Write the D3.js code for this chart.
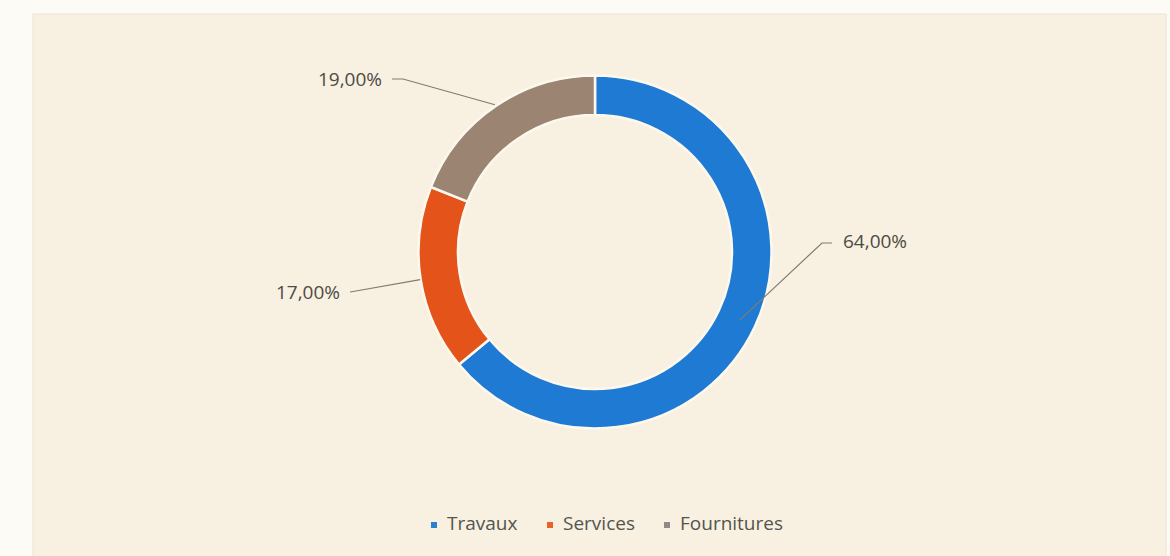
<!DOCTYPE html>
<html><head><meta charset="utf-8">
<script src="https://cdn.jsdelivr.net/npm/d3@7"></script>
<style>body{margin:0;background:#fdfbf6;}svg{display:block;}</style>
</head><body>
<svg id="c" width="1170" height="556"></svg>
<script>
const categories = ["Travaux", "Services", "Fournitures"];
const values = [64, 17, 19];
const labels = ["64,00%", "17,00%", "19,00%"];
const colors = ["#1e7ad2", "#e4531a", "#9b8572"];
const legendColors = ["#2a7fcf", "#e8622a", "#8e8b86"];

const svg = d3.select("#c");
svg.append("rect").attr("x", 33).attr("y", 14).attr("width", 1133).attr("height", 560)
  .attr("fill", "#f8f1e2").attr("stroke", "#ece4d6");

const cx = 595, cy = 252, rOuter = 176.5, rInner = 137;
const pie = d3.pie().sort(null).value(d => d)(values);
const arc = d3.arc().innerRadius(rInner).outerRadius(rOuter);
const g = svg.append("g").attr("transform", `translate(${cx},${cy})`);
g.selectAll("path").data(pie).join("path")
  .attr("d", arc).attr("fill", (d, i) => colors[i])
  .attr("stroke", "#fdf8ee").attr("stroke-width", 2.5);

// leader lines & labels
const labelPos = [
  {tx: 843, ty: 243, anchor: "start", elbow: [822, 243], end: [832, 243], r: 160},
  {tx: 340, ty: 294, anchor: "end", elbow: [356, 291], end: [350, 292], r: 177},
  {tx: 382, ty: 81, anchor: "end", elbow: [403, 79], end: [392, 79], r: 178}
];
pie.forEach((d, i) => {
  const p = labelPos[i];
  const a = (d.startAngle + d.endAngle) / 2;
  const anchorPt = [cx + p.r * Math.sin(a), cy - p.r * Math.cos(a)];
  const pts = [anchorPt, p.elbow, p.end];
  svg.append("path").attr("d", d3.line()(pts)).attr("fill", "none")
    .attr("stroke", "#7f7b72").attr("stroke-width", 1.2);
  svg.append("text").attr("x", p.tx).attr("y", p.ty).attr("text-anchor", p.anchor)
    .attr("dominant-baseline", "middle").attr("font-family", "Open Sans, Liberation Sans, sans-serif")
    .attr("font-size", 19).attr("fill", "#4d4b44").text(labels[i]);
});

// legend
const legX = [431, 547, 664];
const lg = svg.append("g");
categories.forEach((c, i) => {
  lg.append("rect").attr("x", legX[i]).attr("y", 522).attr("width", 6).attr("height", 6).attr("fill", legendColors[i]);
  lg.append("text").attr("x", legX[i] + 16).attr("y", 525).attr("dominant-baseline", "middle")
    .attr("font-family", "Open Sans, Liberation Sans, sans-serif").attr("font-size", 19)
    .attr("fill", "#55544e").text(c);
});
</script>
</body></html>
